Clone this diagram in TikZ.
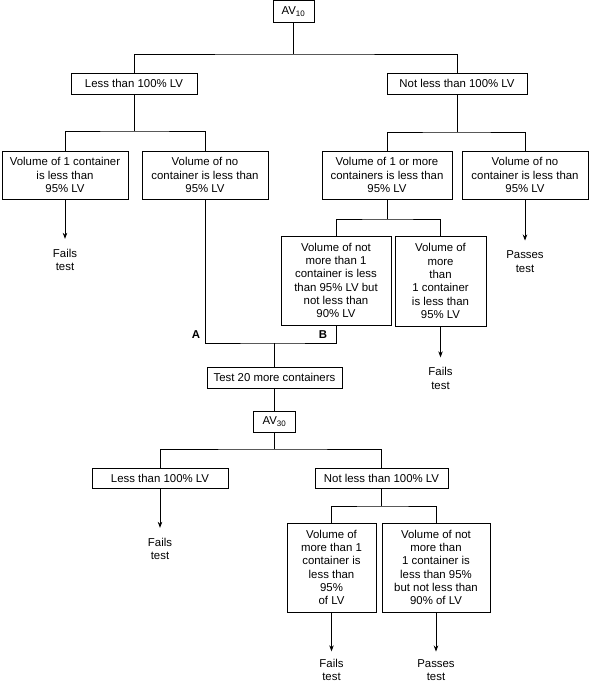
\documentclass[tikz,border=0pt]{standalone}
\usepackage{fontspec}
\setmainfont{Liberation Sans}
\usepackage{tikz}
\usetikzlibrary{arrows.meta}

\begin{document}
\begin{tikzpicture}[x=1pt, y=-1pt, line width=0.7pt,
  every node/.style={font=\fontsize{11.4}{13.3}\selectfont},
  box/.style={draw, align=center, inner sep=0pt},
  result/.style={align=center, inner sep=0pt},
  flow/.style={-{Stealth[length=6pt,width=4.5pt]}, shorten >=10pt},
  tag/.style={font=\fontsize{11.4}{13.3}\selectfont\bfseries}]
  \useasboundingbox (0,0) rectangle (589,684);
  % first ten containers
  \node[box, minimum width=41pt, minimum height=22pt] (av10) at (293.5,11.5) {AV\textsubscript{10}};
  \node[box, minimum width=126pt, minimum height=21pt] (less1) at (134,83.5) {Less than 100\% LV};
  \node[box, minimum width=140pt, minimum height=21pt] (notless1) at (457,83.5) {Not less than 100\% LV};
  \node[box, minimum width=126pt, minimum height=48pt] (vol1) at (65,175) {Volume of 1 container\\is less than\\95\% LV};
  \node[box, minimum width=126pt, minimum height=48pt] (volno) at (205,175) {Volume of no\\container is less than\\95\% LV};
  \node[box, minimum width=130pt, minimum height=48pt] (volsome) at (387,175) {Volume of 1 or more\\containers is less than\\95\% LV};
  \node[box, minimum width=126pt, minimum height=48pt] (volnone) at (525,175) {Volume of no\\container is less than\\95\% LV};
  \node[result] (fail1) at (65,260) {Fails\\test};
  \node[result] (pass1) at (525,261.5) {Passes\\test};
  \node[box, minimum width=110pt, minimum height=89pt] (notmore1) at (336,280.5) {Volume of not\\more than 1\\container is less\\than 95\% LV but\\not less than\\90\% LV};
  \node[box, minimum width=91pt, minimum height=90pt] (morethan1) at (440.5,281) {Volume of\\more\\than\\1 container\\is less than\\95\% LV};
  \node[result] (fail2) at (440.5,378.5) {Fails\\test};
  \node[tag] (labA) at (196,335) {A};
  \node[tag] (labB) at (323,335) {B};
  % twenty more containers
  \node[box, minimum width=135pt, minimum height=21pt] (test20) at (274.5,377.5) {Test 20 more containers};
  \node[box, minimum width=42pt, minimum height=21pt] (av30) at (274.5,421.5) {AV\textsubscript{30}};
  \node[box, minimum width=136pt, minimum height=20pt] (less2) at (160,478) {Less than 100\% LV};
  \node[box, minimum width=133pt, minimum height=20pt] (notless2) at (381.5,478) {Not less than 100\% LV};
  \node[result] (fail3) at (160,549) {Fails\\test};
  \node[box, minimum width=89pt, minimum height=89pt] (more2) at (331.5,567.5) {Volume of\\more than 1\\container is\\less than\\95\%\\of LV};
  \node[box, minimum width=108pt, minimum height=89pt] (notmore2) at (436,567.5) {Volume of not\\more than\\1 container is\\less than 95\%\\but not less than\\90\% of LV};
  \node[result] (fail4) at (331.5,670) {Fails\\test};
  \node[result] (pass2) at (436,670) {Passes\\test};
  % branches
  \coordinate (j1) at (293.5,54);
  \draw (av10) -- (j1);
  \draw (less1) |- (j1) -| (notless1);
  \coordinate (j2) at (134,131);
  \draw (less1) -- (j2);
  \draw (vol1) |- (j2) -| (volno);
  \coordinate (j3) at (457,132);
  \draw (notless1) -- (j3);
  \draw (volsome) |- (j3) -| (volnone);
  \draw[flow] (vol1) -- (fail1);
  \draw[flow] (volnone) -- (pass1);
  \coordinate (j4) at (387,219);
  \draw (volsome) -- (j4);
  \draw (notmore1) |- (j4) -| (morethan1);
  \draw[flow] (morethan1) -- (fail2);
  \coordinate (j5) at (274.5,343);
  \draw (volno) |- (j5) -| (notmore1);
  \draw (j5) -- (test20);
  \draw (test20) -- (av30);
  \coordinate (j6) at (274.5,449);
  \draw (av30) -- (j6);
  \draw (less2) |- (j6) -| (notless2);
  \draw[flow] (less2) -- (fail3);
  \coordinate (j7) at (381.5,506);
  \draw (notless2) -- (j7);
  \draw (more2) |- (j7) -| (notmore2);
  \draw[flow, shorten >=7.5pt] (more2) -- (fail4);
  \draw[flow, shorten >=7.5pt] (notmore2) -- (pass2);
\end{tikzpicture}
\end{document}
